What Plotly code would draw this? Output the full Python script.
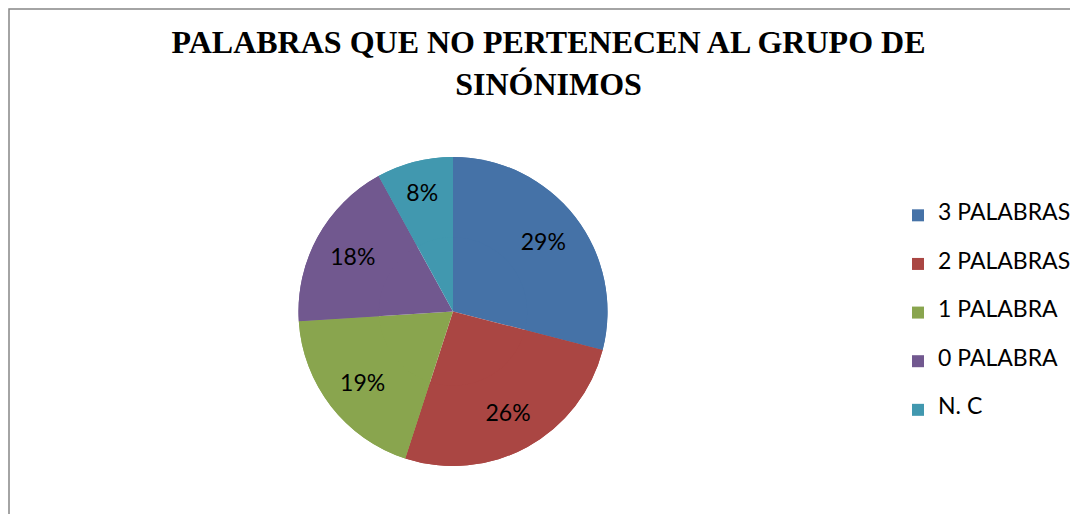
import plotly.graph_objects as go

categories = ["3 PALABRAS", "2 PALABRAS", "1 PALABRA", "0 PALABRA", "N. C"]
values = [29, 26, 19, 18, 8]
colors = ["#4572A7", "#AA4643", "#89A54E", "#71588F", "#4198AF"]
title_text = "PALABRAS QUE NO PERTENECEN AL GRUPO DE<br>SINÓNIMOS"

W, H = 1078, 514
OFF = 8  # page body margin

def px_x(x):
    return (x - OFF) / W

def px_y(y):
    return 1 - (y - OFF) / H

legend_labels = ["<br><span style='font-size:23px'>%s</span><br>" % c for c in categories]
pie_domain = dict(x=[px_x(298), px_x(608)], y=[px_y(466), px_y(157)])

# base pie (colour + legend)
base = go.Pie(
    labels=legend_labels,
    values=values,
    sort=False,
    direction="clockwise",
    rotation=0,
    marker=dict(colors=colors, line=dict(width=0)),
    textinfo="none",
    domain=pie_domain,
    hoverinfo="skip",
    showlegend=True,
)
# overlay ring carrying the percentage labels
ring = go.Pie(
    labels=legend_labels,
    values=values,
    sort=False,
    direction="clockwise",
    rotation=0,
    hole=0.48,
    marker=dict(colors=colors, line=dict(width=0)),
    texttemplate="%{percent:.0%}",
    textposition="inside",
    insidetextorientation="horizontal",
    textfont=dict(family="Lato", size=23, color="black"),
    domain=pie_domain,
    hoverinfo="value+percent",
    showlegend=False,
)

fig = go.Figure([base, ring])

fig.update_layout(
    width=W, height=H, autosize=False,
    margin=dict(l=0, r=0, t=0, b=0),
    paper_bgcolor="white", plot_bgcolor="white",
    title=dict(
        text=title_text,
        font=dict(family="Liberation Serif", size=32, color="black", weight="bold"),
        x=540.5 / W, xanchor="center", xref="paper",
        y=1 - 45 / H, yanchor="top", yref="container",
    ),
    legend=dict(
        x=890 / W, xanchor="left", y=1 - 305 / H, yanchor="middle",
        font=dict(family="Lato", size=11.7, color="black"),
        bgcolor="rgba(0,0,0,0)",
    ),
    showlegend=True,
    shapes=[dict(type="rect", xref="paper", yref="paper",
                 x0=1 / W, x1=1.02, y0=-0.02, y1=1 - 1 / H,
                 line=dict(color="#878787", width=1.5))],
)

fig.write_html("out.html")
